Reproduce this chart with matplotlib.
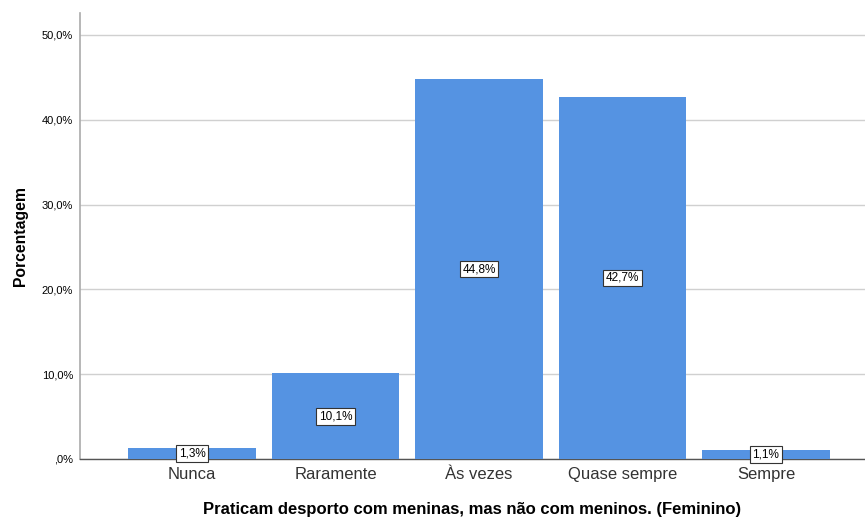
import matplotlib
matplotlib.use('Agg')
import matplotlib.pyplot as plt

# dados
categorias = ['Nunca', 'Raramente', 'Às vezes', 'Quase sempre', 'Sempre']
percentagens = [1.3, 10.1, 44.8, 42.7, 1.1]
rotulos = ['1,3%', '10,1%', '44,8%', '42,7%', '1,1%']
yticks = [0, 10, 20, 30, 40, 50]
ytick_labels = [',0%', '10,0%', '20,0%', '30,0%', '40,0%', '50,0%']

plt.rcParams['font.family'] = ['Liberation Sans', 'DejaVu Sans']

fig = plt.figure(figsize=(8.65, 5.17), dpi=100)
ax = fig.add_axes([0.0925, 0.1122, 0.9075, 0.8628])

x = list(range(len(categorias)))
ax.bar(x, percentagens, width=0.89, color='#5593E2', zorder=3)

for xi, v, lab in zip(x, percentagens, rotulos):
    ax.text(xi, v / 2, lab, ha='center', va='center', fontsize=8.5, zorder=4,
            bbox=dict(boxstyle='square,pad=0.2', facecolor='white', edgecolor='#333333', linewidth=0.8))

ax.set_xlim(-0.78, 4.69)
ax.set_ylim(0, 52.6)
ax.set_yticks(yticks)
ax.set_yticklabels(ytick_labels, fontsize=8)
ax.set_xticks(x)
ax.set_xticklabels(categorias, fontsize=12, color='#333333')
ax.tick_params(axis='both', length=0)
ax.tick_params(axis='x', pad=6)
ax.tick_params(axis='y', pad=5)

ax.grid(axis='y', color='#d0d0d0', linewidth=1, zorder=0)
for s in ['top', 'right']:
    ax.spines[s].set_visible(False)
ax.spines['left'].set_color('#aaaaaa')
ax.spines['left'].set_linewidth(1.2)
ax.spines['bottom'].set_color('#555555')
ax.spines['bottom'].set_linewidth(1)

ax.set_xlabel('Praticam desporto com meninas, mas não com meninos. (Feminino)',
              fontsize=12, fontweight='bold', labelpad=14)
ax.set_ylabel('Porcentagem', fontsize=11.3, fontweight='bold', labelpad=10)

fig.savefig('out.png', dpi=100)
